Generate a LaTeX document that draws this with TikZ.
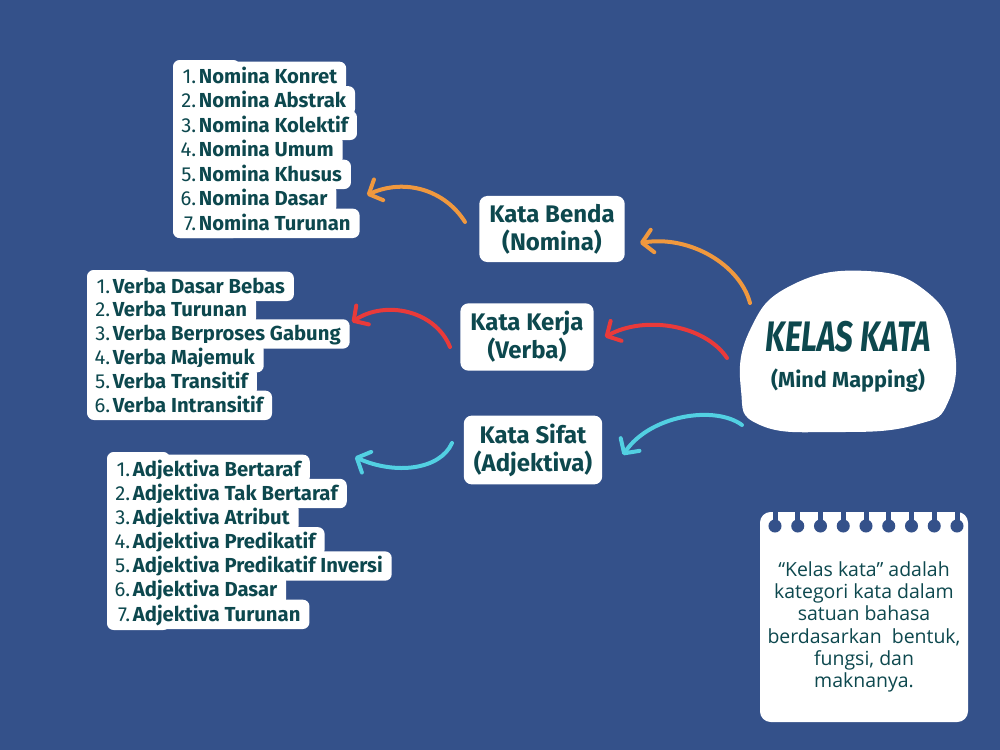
\documentclass[tikz,border=0pt]{standalone}
\usepackage{fontspec}
\setmainfont{Fira Sans}
\newfontfamily\notefont{Open Sans}
\usetikzlibrary{arrows.meta}
\definecolor{bg}{RGB}{52,81,138}
\definecolor{ink}{RGB}{13,72,78}
\definecolor{orng}{RGB}{240,152,62}
\definecolor{rd}{RGB}{233,58,58}
\definecolor{cyn}{RGB}{82,208,226}
\tikzstyle{cat}=[fill=white, rounded corners=6pt, align=center, text=ink,
inner xsep=7.5pt, inner ysep=6pt, font=\fontsize{18}{21}\selectfont\bfseries]
\tikzstyle{ln}=[fill=white, rounded corners=5pt, anchor=base west, text=ink,
inner xsep=3.75pt, inner ysep=0pt, text height=16pt, text depth=6pt,
font=\fontsize{15.2}{17}\selectfont\bfseries, execute at end node={\hspace{3pt}}]
\tikzstyle{arr}=[line width=3pt, line cap=round,
-{Straight Barb[length=8pt,width=17pt,round]}]
\newcommand{\numlab}[1]{\makebox[13.5pt][r]{\mdseries #1}\hspace{2pt}}

\begin{document}
\begin{tikzpicture}[x=0.75pt,y=-0.75pt]
\useasboundingbox (0,0) rectangle (1000,750);
\fill[bg] (0,0) rectangle (1000,750);

% centre blob
\fill[white] plot[smooth cycle, tension=0.8] coordinates
{(867,271) (927,292) (953,340) (949,400) (915,425) (835,432) (760,425) (741,390) (750,330) (792,285)};
\node[text=ink, font=\fontsize{32}{32}\selectfont\bfseries\itshape] (title) at (848,337)
{\scalebox{0.74}[1]{KELAS KATA}};
\node[text=ink, font=\fontsize{16.3}{18}\selectfont\bfseries] (sub) at (848,381) {(Mind Mapping)};

% categories
\node[cat] (benda) at (552,229) {Kata Benda\\(Nomina)};
\node[cat] (kerja) at (527,337) {Kata Kerja\\(Verba)};
\node[cat] (sifat) at (533,450) {Kata Sifat\\(Adjektiva)};

% arrows
\coordinate (o1) at (750,303); \coordinate (o2) at (640,243);
\coordinate (o3) at (465,222); \coordinate (o4) at (367,195);
\coordinate (r1) at (727,358); \coordinate (r2) at (605,337);
\coordinate (r3) at (450,347); \coordinate (r4) at (352,322);
\coordinate (c1) at (742,425); \coordinate (c2) at (623,455);
\coordinate (c3) at (452,443); \coordinate (c4) at (355,457);
\draw[arr, orng] (o1) .. controls (740,265) and (690,235) .. (o2);
\draw[arr, orng] (o3) .. controls (445,190) and (405,178) .. (o4);
\draw[arr, rd] (r1) .. controls (705,325) and (645,315) .. (r2);
\draw[arr, rd] (r3) .. controls (435,310) and (385,300) .. (r4);
\draw[arr, cyn] (c1) .. controls (715,405) and (650,415) .. (c2);
\draw[arr, cyn] (c3) .. controls (440,470) and (395,475) .. (c4);

% nomina
\fill[white, rounded corners=5pt] (173,60) rectangle (240,238);
\node[ln] (n1) at (173,83) {\numlab{1.}Nomina Konret};
\node[ln] (n2) at (173,107.5) {\numlab{2.}Nomina Abstrak};
\node[ln] (n3) at (173,132) {\numlab{3.}Nomina Kolektif};
\node[ln] (n4) at (173,156.5) {\numlab{4.}Nomina Umum};
\node[ln] (n5) at (173,181) {\numlab{5.}Nomina Khusus};
\node[ln] (n6) at (173,205.5) {\numlab{6.}Nomina Dasar};
\node[ln] (n7) at (173,230) {\numlab{7.}Nomina Turunan};

% verba
\fill[white, rounded corners=5pt] (87,270) rectangle (150,419);
\node[ln] (v1) at (87,293) {\numlab{1.}Verba Dasar Bebas};
\node[ln] (v2) at (87,316.8) {\numlab{2.}Verba Turunan};
\node[ln] (v3) at (87,340.6) {\numlab{3.}Verba Berproses Gabung};
\node[ln] (v4) at (87,364.4) {\numlab{4.}Verba Majemuk};
\node[ln] (v5) at (87,388.2) {\numlab{5.}Verba Transitif};
\node[ln] (v6) at (87,412) {\numlab{6.}Verba Intransitif};

% adjektiva
\fill[white, rounded corners=5pt] (107,452) rectangle (170,630);
\node[ln] (a1) at (107,476) {\numlab{1.}Adjektiva Bertaraf};
\node[ln] (a2) at (107,500.2) {\numlab{2.}Adjektiva Tak Bertaraf};
\node[ln] (a3) at (107,524.3) {\numlab{3.}Adjektiva Atribut};
\node[ln] (a4) at (107,548.5) {\numlab{4.}Adjektiva Predikatif};
\node[ln] (a5) at (107,572.7) {\numlab{5.}Adjektiva Predikatif Inversi};
\node[ln] (a6) at (107,596.8) {\numlab{6.}Adjektiva Dasar};
\node[ln] (a7) at (107,621) {\numlab{7.}Adjektiva Turunan};

% note
\fill[white, rounded corners=8pt] (760,512) rectangle (968,722);
\foreach \x in {775,797.75,...,958} {
  \fill[bg] (\x-2.5,510) rectangle (\x+2.5,525);
  \fill[bg] (\x,526) circle (4.9pt);
}
\node[text=ink, align=center, font=\notefont\fontsize{14.6}{16.6}\selectfont] (def) at (864,627)
{“Kelas kata” adalah\\kategori kata dalam\\satuan bahasa\\berdasarkan\ \ bentuk,\\fungsi, dan\\maknanya.};
\end{tikzpicture}
\end{document}
